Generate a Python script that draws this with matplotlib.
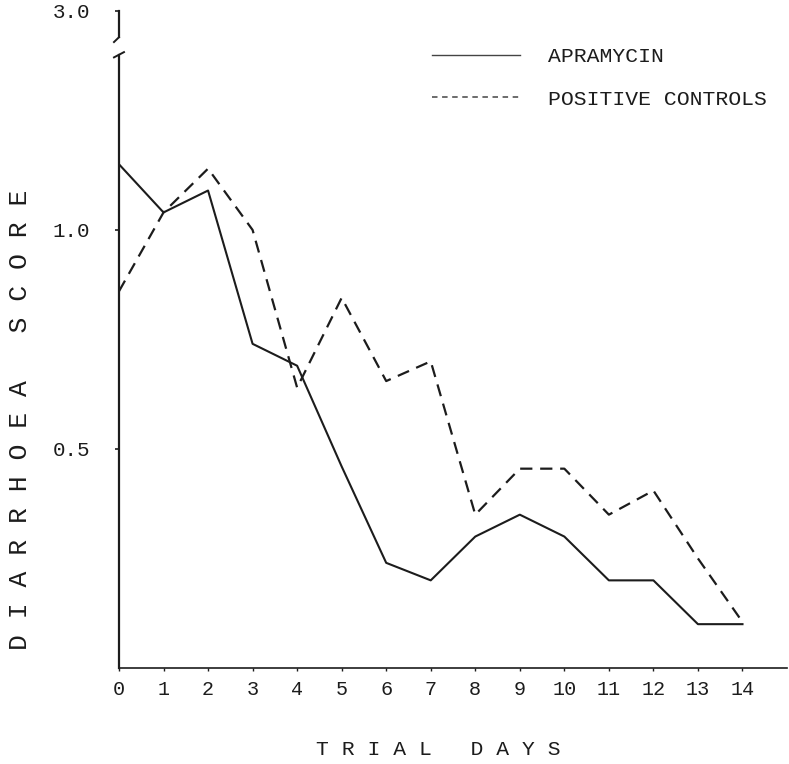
# Diarrhoea score over trial days: apramycin vs positive controls (typewriter-style figure)
import matplotlib
matplotlib.use('Agg')
import matplotlib.pyplot as plt
from matplotlib.lines import Line2D

plt.rcParams['font.family'] = ['Liberation Mono', 'DejaVu Sans Mono']

days = list(range(15))
day_labels = [str(d) for d in days]
apramycin = [1.15, 1.04, 1.09, 0.74, 0.69, 0.46, 0.24, 0.20, 0.30, 0.35, 0.30, 0.20, 0.20, 0.10, 0.10]
positive_controls = [0.86, 1.04, 1.14, 1.00, 0.64, 0.845, 0.655, 0.70, 0.35, 0.455, 0.455, 0.35, 0.405, 0.25, 0.105]
series_names = ['APRAMYCIN', 'POSITIVE CONTROLS']

# y axis is broken: the top tick stands for 3.0
y_ticks = [0.5, 1.0, 1.5]
y_tick_labels = ['0.5', '1.0', '3.0']
break_low = 1.40
break_high = 1.44

INK = '#1c1c1c'

fig, ax = plt.subplots(figsize=(7.89, 7.64), dpi=100)
fig.subplots_adjust(left=0.1508, right=0.9975, bottom=0.1257, top=1.0)

ax.plot(days, apramycin, color=INK, lw=1.5)
ax.plot(days, positive_controls, color=INK, lw=1.6, ls=(0, (5.5, 3.5)))

ax.set_xlim(0, 15.0)
ax.set_ylim(0, 1.525)
ax.set_xticks(days, day_labels)
ax.set_yticks(y_ticks, y_tick_labels)
ax.tick_params(axis='y', direction='out', length=3, width=1.2, pad=18, labelsize=15, colors=INK)
ax.tick_params(axis='x', direction='out', length=2.5, width=1, pad=6, labelsize=14.5, colors=INK)

for side in ['top', 'right']:
    ax.spines[side].set_visible(False)
ax.spines['left'].set_bounds(0, break_low)
ax.spines['left'].set_linewidth(1.6)
ax.spines['bottom'].set_linewidth(1.2)
for side in ['left', 'bottom']:
    ax.spines[side].set_color(INK)

# break marks on the y axis
trans = ax.get_yaxis_transform()
dx = 5 / 668
ax.plot([-dx, dx], [break_low - 0.006, break_low + 0.006], transform=trans,
        clip_on=False, color=INK, lw=1.4)
ax.plot([0, 0], [break_high, y_ticks[-1]], transform=trans, clip_on=False, color=INK, lw=1.6)
ax.plot([0, -dx], [break_high, break_high - 0.011], transform=trans,
        clip_on=False, color=INK, lw=1.4)

handles = [Line2D([], [], color='#444444', lw=1.0),
           Line2D([], [], color='#444444', lw=1.1, ls=(0, (3.6, 3)))]
ax.legend(handles, series_names, loc='upper left', bbox_to_anchor=(0.4686, 0.929),
          frameon=False, fontsize=15.4, handlelength=4.1, handletextpad=1.3,
          labelspacing=1.1, borderpad=0, borderaxespad=0, labelcolor=INK)

ax.text(0.4775, -0.122, 'T R I A L   D A Y S', transform=ax.transAxes,
        ha='center', va='center', fontsize=15.4, color=INK)
ax.text(-0.148, 0.371, 'D I A R R H O E A   S C O R E', transform=ax.transAxes,
        rotation=90, ha='center', va='center', fontsize=19, color=INK)

fig.savefig('out.png', dpi=100)
